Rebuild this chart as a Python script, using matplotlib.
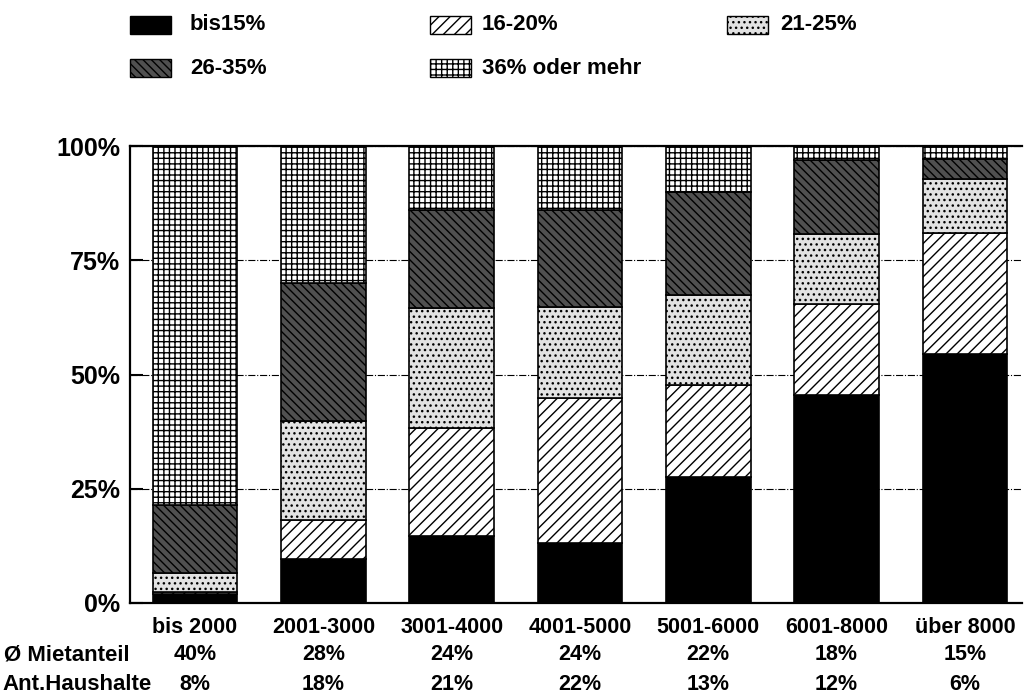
import matplotlib
matplotlib.use("Agg")
import matplotlib.pyplot as plt
from matplotlib.patches import Rectangle
import numpy as np

plt.rcParams['font.family'] = ['Liberation Sans', 'DejaVu Sans']
plt.rcParams['font.weight'] = 'bold'
plt.rcParams['hatch.linewidth'] = 1.0

categories = ["bis 2000", "2001-3000", "3001-4000", "4001-5000", "5001-6000", "6001-8000", "über 8000"]
series_names = ["bis15%", "16-20%", "21-25%", "26-35%", "36% oder mehr"]
bis15 = [2.0, 9.6, 14.7, 13.2, 27.6, 45.5, 54.4]
p16_20 = [0.5, 8.6, 23.7, 31.7, 20.1, 19.9, 26.5]
p21_25 = [4.0, 21.6, 26.1, 19.9, 19.6, 15.3, 11.8]
p26_35 = [14.9, 30.3, 21.6, 21.2, 22.6, 16.2, 4.4]
p36_plus = [78.6, 29.9, 13.9, 14.0, 10.1, 3.1, 2.9]
mietanteil = ["40%", "28%", "24%", "24%", "22%", "18%", "15%"]
haushalte = ["8%", "18%", "21%", "22%", "13%", "12%", "6%"]
yticks = [0, 25, 50, 75, 100]
ytick_labels = ["0%", "25%", "50%", "75%", "100%"]

styles = [
    dict(facecolor="black", hatch=None),
    dict(facecolor="white", hatch="///"),
    dict(facecolor="#e2e2e2", hatch="..."),
    dict(facecolor="#505050", hatch="\\\\\\\\"),
    dict(facecolor="white", hatch="+++"),
]

W, H = 1025, 698
fig = plt.figure(figsize=(W / 100, H / 100), dpi=100)
ax = fig.add_axes([130 / W, 1 - 603 / H, (1022 - 130) / W, 457 / H])

x = np.arange(len(categories))
bottom = np.zeros(len(categories))
for vals, st in zip([bis15, p16_20, p21_25, p26_35, p36_plus], styles):
    ax.bar(x, vals, bottom=bottom, width=0.66, edgecolor="black",
           linewidth=1.2, zorder=2, **st)
    bottom += np.array(vals)

ax.set_xlim(-0.507, 6.445)
ax.set_ylim(0, 100)
ax.set_yticks(yticks)
ax.set_yticklabels(ytick_labels, fontsize=18, fontweight="bold")
ax.tick_params(axis="y", direction="in", length=9, width=1.5, pad=7)
ax.set_xticks(x)
ax.set_xticklabels(categories, fontsize=15.5, fontweight="bold")
ax.tick_params(axis="x", length=0, pad=10)
ax.yaxis.grid(True, linestyle="-.", color="black", linewidth=0.8)
ax.set_axisbelow(True)
for s in ["left", "top", "bottom"]:
    ax.spines[s].set_linewidth(1.6)
ax.spines["right"].set_visible(False)

trans = ax.get_xaxis_transform()
y_m = (603 - 655) / 457
y_h = (603 - 684) / 457
for i in range(len(categories)):
    ax.text(x[i], y_m, mietanteil[i], transform=trans, ha="center", va="center",
            fontsize=15.5, fontweight="bold", clip_on=False)
    ax.text(x[i], y_h, haushalte[i], transform=trans, ha="center", va="center",
            fontsize=15.5, fontweight="bold", clip_on=False)
fig.text(4 / W, 1 - 655 / H, "Ø Mietanteil", ha="left", va="center", fontsize=16, fontweight="bold")
fig.text(2 / W, 1 - 684 / H, "Ant.Haushalte", ha="left", va="center", fontsize=16, fontweight="bold")

# legend
leg_pos = [(130, 190, 25), (430, 482, 25), (727, 780, 25), (130, 190, 68), (430, 482, 68)]
for (px, tx, cy), name, st in zip(leg_pos, series_names, styles):
    r = Rectangle((px / W, 1 - (cy + 9) / H), 41 / W, 18 / H, transform=fig.transFigure,
                  edgecolor="black", linewidth=1.0, **st)
    fig.add_artist(r)
    fig.text(tx / W, 1 - cy / H, name, ha="left", va="center", fontsize=16, fontweight="bold")

fig.savefig("out.png", dpi=100)
